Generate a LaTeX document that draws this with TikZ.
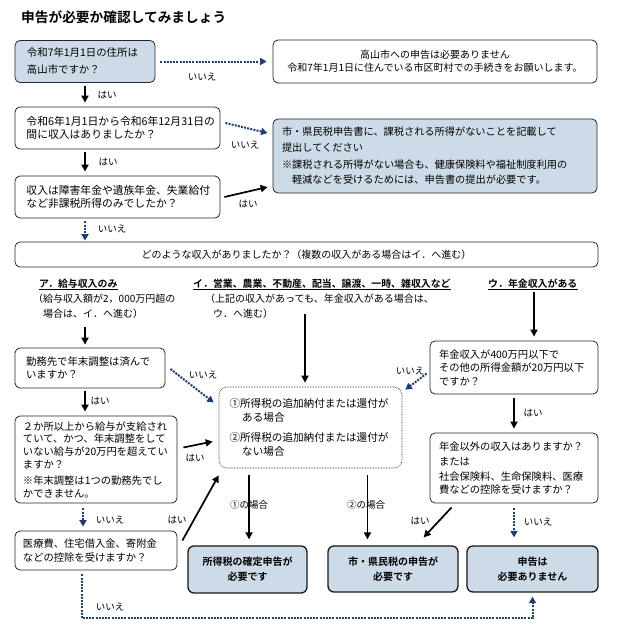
\documentclass[tikz,border=0pt]{standalone}
\usepackage{fontspec}
\setmainfont{Noto Sans CJK JP}[BoldFont={* Bold}]
\usetikzlibrary{arrows.meta,calc}
\definecolor{boxblue}{HTML}{CDDBE8}
\definecolor{navy}{HTML}{1F3F72}
\tikzset{
  box/.style={draw=black!85, line width=0.8pt, rounded corners=5pt, inner sep=0pt, align=left},
  fillbox/.style={box, fill=boxblue},
  cbox/.style={draw=black!80, line width=0.6pt, dash pattern=on 0.8pt off 0.8pt, rounded corners=8pt, inner sep=0pt, align=left},
  final/.style={draw=black!90, line width=1.3pt, rounded corners=6pt, fill=boxblue, inner sep=0pt, align=center, font=\bfseries\fontsize{10}{15}\selectfont},
  arr/.style={line width=1.7pt, -{Triangle[length=7pt,width=7pt]}},
  darr/.style={draw=navy, line width=2pt, dash pattern=on 2pt off 1.2pt, -{Triangle[length=6.5pt,width=7pt]}, color=navy},
  lab/.style={font=\fontsize{9.5}{11}\selectfont, inner sep=0pt},
  head/.style={font=\bfseries\fontsize{9.9}{12}\selectfont, inner sep=0pt, anchor=base west},
  subt/.style={font=\fontsize{10}{12}\selectfont, inner sep=0pt, anchor=base west},
}
\begin{document}
\begin{tikzpicture}[x=1pt,y=-1pt]
\useasboundingbox (0,0) rectangle (617,635);

\node[font=\bfseries\fontsize{13.7}{16}\selectfont, anchor=west, inner sep=0pt] (title) at (21,17) {申告が必要か確認してみましょう};

% top chain
\node[fillbox, minimum width=140pt, minimum height=42pt, text width=116pt, font=\fontsize{10.4}{17}\selectfont] (b1) at (85,61.5) {令和7年1月1日の住所は\\高山市ですか？};
\node[box, minimum width=324pt, minimum height=43pt, text width=310pt, align=center, font=\fontsize{10}{13}\selectfont] (r1) at (435,61.5) {高山市への申告は必要ありません\\令和7年1月1日に住んでいる市区町村での手続きをお願いします。};
\node[box, minimum width=205pt, minimum height=42pt, text width=182pt, font=\fontsize{10.8}{13.5}\selectfont] (b2) at (117.5,128) {令和6年1月1日から令和6年12月31日の\\間に収入はありましたか？};
\node[box, minimum width=205pt, minimum height=42pt, text width=182pt, font=\fontsize{10.8}{13.5}\selectfont] (b3) at (117.5,197) {収入は障害年金や遺族年金、失業給付\\など非課税所得のみでしたか？};
\node[fillbox, minimum width=324pt, minimum height=74pt, text width=306pt, font=\fontsize{10.2}{15.5}\selectfont] (r2) at (435,156) {市・県民税申告書に、課税される所得がないことを記載して\\提出してください\\[1.5pt]※課税される所得がない場合も、健康保険料や福祉制度利用の\\\hspace*{10pt}軽減などを受けるためには、申告書の提出が必要です。};
\node[box, minimum width=583pt, minimum height=25pt, align=center, font=\fontsize{10}{12}\selectfont] (q) at (306.5,254.5) {どのような収入がありましたか？（複数の収入がある場合はイ．へ進む）};

\draw[darr, shorten <=5pt, shorten >=6pt] (b1.east) -- (r1.west);
\node[lab] (l1) at (202,77) {いいえ};
\draw[arr, shorten <=3pt, shorten >=4pt] (b1.south) -- (b1.south |- b2.north);
\node[lab] (l2) at (107,95) {はい};
\draw[darr] ($(b2.east)+(5,-5)$) -- ($(r2.west)+(-5,-23)$);
\node[lab] (l3) at (245,145) {いいえ};
\draw[arr, shorten <=3pt, shorten >=4pt] (b1.south |- b2.south) -- (b1.south |- b3.north);
\node[lab] (l4) at (108,162) {はい};
\draw[arr] ($(b3.east)+(4,0)$) -- ($(r2.west)+(-5,31)$);
\node[lab] (l5) at (248,204) {はい};
\draw[darr, shorten <=3pt, shorten >=1pt] (b1.south |- b3.south) -- (b1.south |- q.north);
\node[lab] (l6) at (112,229) {いいえ};

% headings
\node[head] (hA) at (39,287) {ア．給与収入のみ};
\draw[line width=0.8pt] ([yshift=-2.5pt]hA.base west) -- ([yshift=-2.5pt]hA.base east);
\node[head] (hI) at (193,287) {イ．営業、農業、不動産、配当、譲渡、一時、雑収入など};
\draw[line width=0.8pt] ([yshift=-2.5pt]hI.base west) -- ([yshift=-2.5pt]hI.base east);
\node[head] (hU) at (488,287) {ウ．年金収入がある};
\draw[line width=0.8pt] ([yshift=-2.5pt]hU.base west) -- ([yshift=-2.5pt]hU.base east);
\node[subt] (sA1) at (33,302) {（給与収入額が2，000万円超の};
\node[subt] (sA2) at (43,317) {場合は、イ．へ進む）};
\node[subt] (sI1) at (205,302) {（上記の収入があっても、年金収入がある場合は、};
\node[subt] (sI2) at (213,317) {ウ．へ進む）};

% middle boxes
\node[box, minimum width=150pt, minimum height=40pt, text width=128pt, font=\fontsize{10.4}{13.5}\selectfont] (b4) at (90,368) {勤務先で年末調整は済んで\\いますか？};
\node[box, minimum width=162pt, minimum height=87pt, text width=146pt, font=\fontsize{10.3}{12.8}\selectfont] (b5) at (96,459.5) {２か所以上から給与が支給され\\ていて、かつ、年末調整をして\\いない給与が20万円を超えてい\\ますか？\\[3pt]※年末調整は1つの勤務先でし\\かできません。};
\node[box, minimum width=162pt, minimum height=39pt, text width=146pt, font=\fontsize{10.3}{13.5}\selectfont] (b6) at (96,550.5) {医療費、住宅借入金、寄附金\\などの控除を受けますか？};
\node[cbox, minimum width=183pt, minimum height=81pt, text width=162pt, font=\fontsize{10.6}{14.5}\selectfont] (c) at (310.5,427.5) {①所得税の追加納付または還付が\\\hspace*{1.2em}ある場合\\[5pt]②所得税の追加納付または還付が\\\hspace*{1.2em}ない場合};
\node[box, minimum width=168pt, minimum height=53pt, text width=150pt, font=\fontsize{10.3}{13.5}\selectfont] (p1) at (514,367.5) {年金収入が400万円以下で\\その他の所得金額が20万円以下\\ですか？};
\node[box, minimum width=168pt, minimum height=70pt, text width=150pt, font=\fontsize{10.3}{13}\selectfont] (p2) at (514,468) {年金以外の収入はありますか？\\[2pt]または\\[2pt]社会保険料、生命保険料、医療\\費などの控除を受けますか？};

% finals
\node[final, minimum width=119pt, minimum height=47pt] (f1) at (247.5,569.5) {所得税の確定申告が\\必要です};
\node[final, minimum width=130pt, minimum height=46pt] (f2) at (393,569) {市・県民税の申告が\\必要です};
\node[final, minimum width=131pt, minimum height=46pt] (f3) at (532.5,569) {申告は\\必要ありません};

% connectors from headings
\coordinate (aTop) at (85,327);
\coordinate (iTop) at (305,314);
\coordinate (uTop) at (534,292);
\draw[arr, shorten >=3pt] (aTop) -- (aTop |- b4.north);
\draw[arr, shorten >=4pt] (iTop) -- (iTop |- c.north);
\draw[arr, shorten >=4pt] (uTop) -- (uTop |- p1.north);

% middle connectors
\draw[darr] ($(b4.east)+(5,1)$) -- ($(c.west)+(-5,-25)$);
\node[lab] (l7) at (203,375) {いいえ};
\draw[arr, shorten <=3pt, shorten >=4pt] (aTop |- b4.south) -- (aTop |- b5.north);
\node[lab] (l8) at (100,401) {はい};
\draw[arr] ($(b5.east)+(6,-12)$) -- ($(c.west)+(-6,14)$);
\node[lab] (l9) at (195,458) {はい};
\coordinate (b5d) at ($(b5.south)+(-13,0)$);
\draw[darr, shorten <=5pt, shorten >=4pt] (b5d) -- (b5d |- b6.north);
\node[lab] (l10) at (110,520) {いいえ};
\draw[arr] ($(b6.east)+(5,-10)$) -- ($(c.south west)+(0,7)$);
\node[lab] (l11) at (177,520) {はい};
\draw[darr] ($(p1.west)+(-3,6)$) -- ($(c.north east)+(3,3)$);
\node[lab] (l12) at (410,371) {いいえ};
\draw[arr, shorten <=4pt, shorten >=4pt] (p1.south) -- (p1.south |- p2.north);
\node[lab] (l13) at (533,413) {はい};

% to finals
\coordinate (c1) at ($(c.south)+(-61.5,0)$);
\coordinate (c2) at ($(c.south)+(57,0)$);
\draw[arr, shorten <=7pt, shorten >=6pt] (c1) -- (c1 |- f1.north);
\node[lab] (l14) at (249,505) {①の場合};
\draw[arr, shorten <=7pt, shorten >=6pt] (c2) -- (c2 |- f2.north);
\node[lab] (l15) at (366,505) {②の場合};
\draw[arr] ($(p2.south west)+(22,4)$) -- ($(f2.north east)+(-35,-8)$);
\node[lab] (l16) at (420,521) {はい};
\draw[darr, shorten <=5pt, shorten >=8pt] (p2.south) -- (p2.south |- f3.north);
\node[lab] (l17) at (538,522) {いいえ};
\coordinate (b6d) at ($(b6.south)+(-14,0)$);
\draw[darr, shorten <=4pt, shorten >=4pt] (b6d) -- ++(0,48) -| (f3.south);
\node[lab] (l18) at (110,607) {いいえ};
\end{tikzpicture}
\end{document}
